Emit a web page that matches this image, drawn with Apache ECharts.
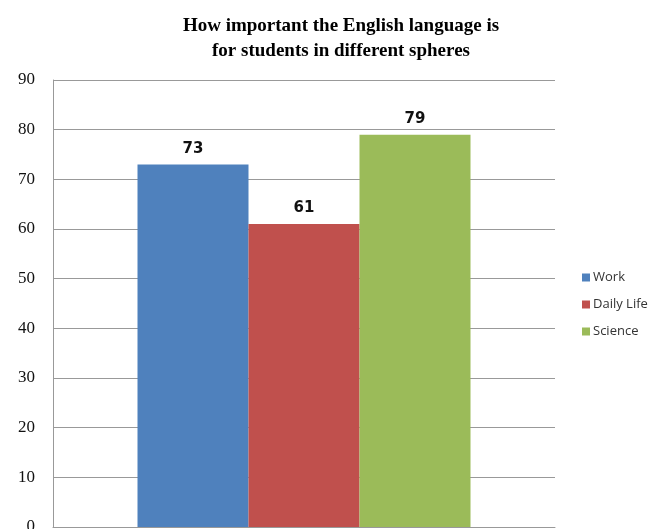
<!DOCTYPE html>
<html>
<head>
<meta charset="utf-8">
<script src="https://cdn.jsdelivr.net/npm/echarts@6/dist/echarts.min.js"></script>
<style>
    html, body { margin: 0; padding: 0; background: #fff; }
    #chart { width: 653px; height: 529px; }
</style>
</head>
<body>
<div id="chart"></div>
<script>
// 数据
const categories = ['']
const seriesNames = ['Work', 'Daily Life', 'Science']
const seriesValues = [73, 61, 79]
const seriesColors = ['#4f81bd', '#c0504d', '#9bbb59']

;(function () {
    const mychart = echarts.init(document.getElementById('chart'))

    const series = seriesNames.map(function (name, i) {
        return {
            name: name,
            type: 'bar',
            data: [seriesValues[i]],
            barWidth: 111,
            barGap: '0%',
            itemStyle: { color: seriesColors[i] },
            label: {
                show: true,
                position: 'top',
                distance: 8,
                color: '#111',
                fontFamily: 'DejaVu Sans',
                fontWeight: 'bold',
                fontSize: 15,
            },
        }
    })

    const option = {
        animation: false,
        title: {
            text: 'How important the English language is\nfor students in different spheres',
            left: 336,
            textAlign: 'center',
            top: 9,
            textStyle: {
                fontFamily: 'Liberation Serif',
                fontWeight: 'bold',
                fontSize: 19,
                lineHeight: 25,
                color: '#000',
            },
        },
        legend: {
            orient: 'vertical',
            left: 577,
            top: 266,
            itemWidth: 8,
            itemHeight: 8,
            itemGap: 14,
            icon: 'rect',
            data: seriesNames,
            textStyle: {
                fontFamily: 'Open Sans',
                fontSize: 13,
                color: '#333',
                padding: [0, 0, 0, -2],
            },
        },
        grid: {
            left: 53,
            top: 80,
            width: 502,
            height: 447,
            outerBoundsMode: 'none',
        },
        xAxis: {
            type: 'category',
            data: categories,
            axisLine: { lineStyle: { color: '#999' } },
            axisTick: { show: false },
            axisLabel: { show: false },
        },
        yAxis: {
            type: 'value',
            min: 0,
            max: 90,
            interval: 10,
            axisLine: { show: true, lineStyle: { color: '#999' } },
            axisTick: { show: false },
            axisLabel: {
                margin: 18,
                fontFamily: 'Liberation Serif',
                fontSize: 17,
                color: '#111',
            },
            splitLine: { lineStyle: { color: '#999' } },
        },
        series: series,
    }

    mychart.setOption(option)
})()
</script>
</body>
</html>
